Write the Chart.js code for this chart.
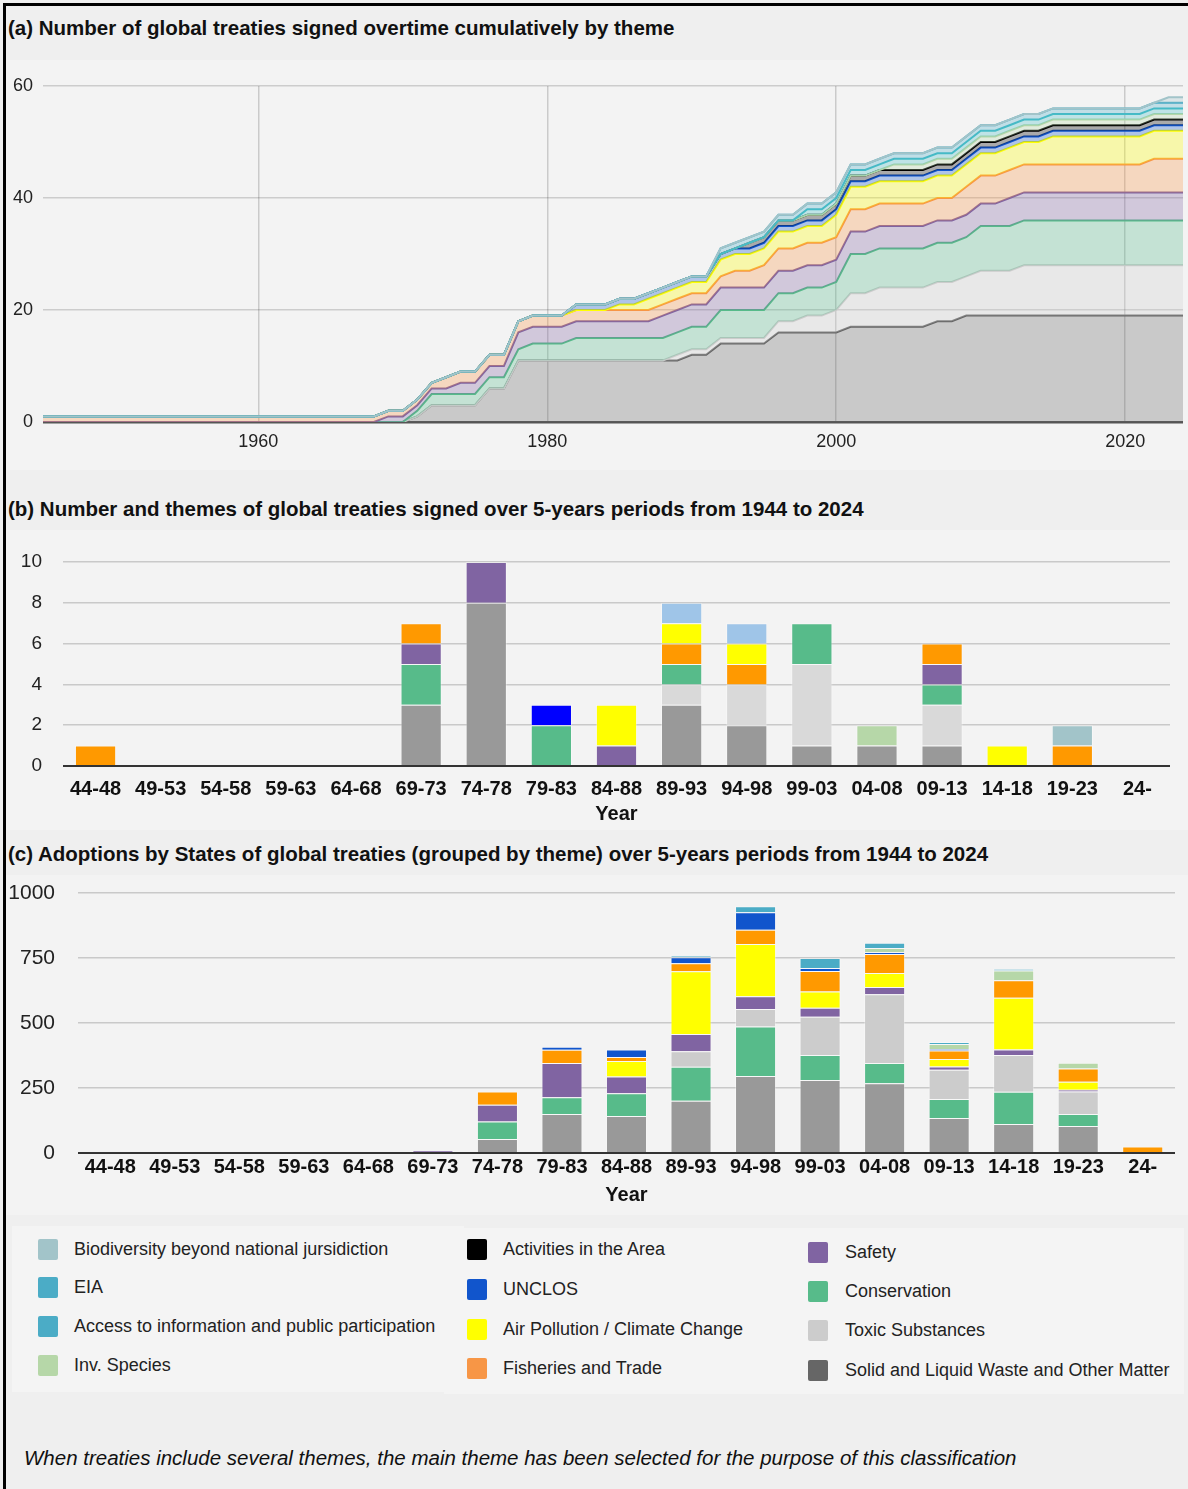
<!DOCTYPE html>
<html>
<head>
<meta charset="utf-8">
<script src="https://cdn.jsdelivr.net/npm/chart.js"></script>
<style>
  body { margin: 0; background: #fff; font-family: "Liberation Sans", Arial, sans-serif; }
  #page { position: relative; width: 1188px; height: 1489px; background: #efefef; overflow: hidden; }
  .frame { position: absolute; background: #000; }
  .ttl { position: absolute; left: 8px; font-size: 20.5px; font-weight: bold; color: #111; line-height: 24px; white-space: nowrap; }
  canvas { position: absolute; left: 6px; background: #f3f3f3; }
  .panel { position: absolute; background: #f4f4f4; }
  .sw { position: absolute; width: 20px; height: 21px; border-radius: 2px; }
  .lt { position: absolute; font-size: 18px; color: #222; line-height: 21px; white-space: nowrap; }
  .note { position: absolute; left: 24px; top: 1446px; font-size: 20.5px; font-style: italic; color: #111; white-space: nowrap; }
</style>
</head>
<body>
<div id="page">
  <div class="frame" style="left:3px;top:3px;width:3px;height:1486px"></div>
  <div class="frame" style="left:3px;top:3px;width:1185px;height:3px"></div>

  <div class="ttl" style="top:16px">(a) Number of global treaties signed overtime cumulatively by theme</div>
  <canvas id="chartA" width="1182" height="410" style="top:60px"></canvas>

  <div class="ttl" style="top:497px">(b) Number and themes of global treaties signed over 5-years periods from 1944 to 2024</div>
  <canvas id="chartB" width="1182" height="300" style="top:530px"></canvas>

  <div class="ttl" style="top:842px">(c) Adoptions by States of global treaties (grouped by theme) over 5-years periods from 1944 to 2024</div>
  <canvas id="chartC" width="1182" height="340" style="top:875px"></canvas>

  <div class="panel" style="left:12px;top:1226px;width:452px;height:166px"></div>
  <div class="panel" style="left:444px;top:1228px;width:740px;height:166px"></div>
  <div id="legend"></div>

  <div class="note">When treaties include several themes, the main theme has been selected for the purpose of this classification</div>
</div>

<script>
// ---- (a) years each treaty was signed, by theme ----
const firstYear = 1945
const lastYear = 2024
const yearTicks = [1960, 1980, 2000, 2020]

const signedSolid = [1971,1972,1972,1976,1976,1976,1978,1978,1978,1978,1978,1990,1992,1992,1996,1996,2001,2007,2009]
const signedToxic = [1989,1996,1998,2000,2001,2001,2003,2010,2013]
const signedConservation = [1971,1972,1979,1982,1992,2001,2001,2010]
const signedSafety = [1969,1974,1978,1988,2012]
const signedFisheries = [1945,1973,1993,1995,2009,2022]
const signedAir = [1985,1987,1992,2000,2015]
const signedUnclos = [1982]
const signedActivities = [1994]
const signedInvSpecies = [2004]
const signedAccess = [1998]
const signedEia = [1992]
const signedBbnj = [2023]

// ---- (b) number of treaties per 5-year period ----
const periods = ['44-48','49-53','54-58','59-63','64-68','69-73','74-78','79-83','84-88','89-93','94-98','99-03','04-08','09-13','14-18','19-23','24-']
const countSolid        = [0,0,0,0,0,3,8,0,0,3,2,1,1,1,0,0,0]
const countToxic        = [0,0,0,0,0,0,0,0,0,1,2,4,0,2,0,0,0]
const countConservation = [0,0,0,0,0,2,0,2,0,1,0,2,0,1,0,0,0]
const countSafety       = [0,0,0,0,0,1,2,0,1,0,0,0,0,1,0,0,0]
const countFisheries    = [1,0,0,0,0,1,0,0,0,1,1,0,0,1,0,1,0]
const countAir          = [0,0,0,0,0,0,0,0,2,1,1,0,0,0,1,0,0]
const countUnclos       = [0,0,0,0,0,0,0,1,0,0,0,0,0,0,0,0,0]
const countEiaAccess    = [0,0,0,0,0,0,0,0,0,1,1,0,0,0,0,0,0]
const countInvSpecies   = [0,0,0,0,0,0,0,0,0,0,0,0,1,0,0,0,0]
const countBbnj         = [0,0,0,0,0,0,0,0,0,0,0,0,0,0,0,1,0]

// ---- (c) adoptions by States per 5-year period ----
const adoptSolid        = [0,0,0,0,0,0,54,150,142,201,296,281,268,135,112,104,0]
const adoptConservation = [0,0,0,0,0,0,67,64,88,131,191,96,78,73,124,46,0]
const adoptToxic        = [0,0,0,0,0,0,0,0,0,59,67,147,265,112,141,87,0]
const adoptSafety       = [0,0,0,0,0,10,65,132,64,67,49,35,27,13,21,6,0]
const adoptAir          = [0,0,0,0,0,0,0,0,60,241,201,62,54,29,199,31,0]
const adoptFisheries    = [3,0,0,0,0,0,51,51,15,31,55,79,73,32,67,51,25]
const adoptUnclos       = [0,0,0,0,0,0,0,12,29,23,67,12,8,6,0,0,0]
const adoptInvSpecies   = [0,0,0,0,0,0,0,0,0,0,0,0,15,19,38,22,0]
const adoptEiaAccess    = [0,0,0,0,0,0,0,0,0,6,23,38,21,8,6,0,0]

Chart.defaults.font.family = '"Liberation Sans", Arial, sans-serif'
Chart.defaults.color = '#222'

// ---------- chart (a) ----------
let layersA = [  // bottom to top
  {name:'Solid and Liquid Waste and Other Matter', signed:signedSolid, line:'#666666', fill:'rgba(102,102,102,0.3)'},
  {name:'Toxic Substances', signed:signedToxic, line:'#cccccc', fill:'rgba(204,204,204,0.3)'},
  {name:'Conservation', signed:signedConservation, line:'#57bb8a', fill:'rgba(87,187,138,0.3)'},
  {name:'Safety', signed:signedSafety, line:'#8064a2', fill:'rgba(128,100,162,0.3)'},
  {name:'Fisheries and Trade', signed:signedFisheries, line:'#f79646', fill:'rgba(247,150,70,0.3)'},
  {name:'Air Pollution / Climate Change', signed:signedAir, line:'#ffff00', fill:'rgba(255,255,0,0.3)'},
  {name:'UNCLOS', signed:signedUnclos, line:'#1155cc', fill:'rgba(17,85,204,0.3)'},
  {name:'Activities in the Area', signed:signedActivities, line:'#000000', fill:'rgba(0,0,0,0.3)'},
  {name:'Inv. Species', signed:signedInvSpecies, line:'#b6d7a8', fill:'rgba(182,215,168,0.3)'},
  {name:'Access to information and public participation', signed:signedAccess, line:'#46bdc6', fill:'rgba(70,189,198,0.3)'},
  {name:'EIA', signed:signedEia, line:'#4bacc6', fill:'rgba(75,172,198,0.3)'},
  {name:'Biodiversity beyond national jursidiction', signed:signedBbnj, line:'#a2c4c9', fill:'rgba(162,196,201,0.3)'}
]

let years = []
for (let y = firstYear; y <= lastYear; y++) years.push(y)

// cumulative count per theme, stacked on the layers below
let base = years.map(() => 0)
let dsA = layersA.map(layer => {
  let top = years.map((yr, i) => base[i] + layer.signed.filter(s => s <= yr).length)
  base = top
  return {
    label: layer.name,
    data: years.map((yr, i) => ({x: yr, y: top[i]})),
    borderColor: layer.line,
    backgroundColor: layer.fill,
    borderWidth: 2,
    pointRadius: 0,
    tension: 0
  }
}).reverse()
dsA.forEach((d, i) => { d.fill = i === dsA.length - 1 ? 'origin' : '+1' })

new Chart(document.querySelector('#chartA'), {
  type: 'line',
  data: { datasets: dsA },
  options: {
    responsive: false,
    animation: false,
    layout: { padding: {top: 26, right: 5, bottom: 0, left: 0} },
    plugins: { legend: {display: false}, tooltip: {enabled: false} },
    scales: {
      x: {
        type: 'linear', min: 1945.1, max: lastYear, z: 1,
        afterBuildTicks: s => { s.ticks = yearTicks.map(v => ({value: v})) },
        afterFit: s => { s.height = 48 },
        border: {display: false},
        grid: {color: 'rgba(0,0,0,0.17)', lineWidth: 1.5, drawTicks: false},
        ticks: {padding: 9, font: {size: 18}, color: '#222', maxRotation: 0, callback: v => String(v)}
      },
      y: {
        min: 0, max: 60, z: 1,
        afterFit: s => { s.width = 37; s.paddingTop = 0; s.paddingBottom = 0 },
        border: {display: false},
        grid: {
          drawTicks: false,
          color: c => c.tick.value === 0 ? '#555555' : 'rgba(0,0,0,0.16)',
          lineWidth: c => c.tick.value === 0 ? 2.5 : 1.5
        },
        ticks: {stepSize: 20, padding: 10, font: {size: 18}, color: '#222'}
      }
    }
  }
})

// ---------- chart (b) ----------
let barsB = [
  {label:'Solid and Liquid Waste and Other Matter', data:countSolid, color:'#999999'},
  {label:'Toxic Substances', data:countToxic, color:'#d9d9d9'},
  {label:'Conservation', data:countConservation, color:'#57bb8a'},
  {label:'Safety', data:countSafety, color:'#8064a2'},
  {label:'Fisheries and Trade', data:countFisheries, color:'#ff9900'},
  {label:'Air Pollution / Climate Change', data:countAir, color:'#ffff00'},
  {label:'UNCLOS', data:countUnclos, color:'#0000ff'},
  {label:'EIA / Access to information', data:countEiaAccess, color:'#9fc5e8'},
  {label:'Inv. Species', data:countInvSpecies, color:'#b6d7a8'},
  {label:'Biodiversity beyond national jursidiction', data:countBbnj, color:'#a2c4c9'}
]

// ---------- chart (c) ----------
let barsC = [
  {label:'Solid and Liquid Waste and Other Matter', data:adoptSolid, color:'#999999'},
  {label:'Conservation', data:adoptConservation, color:'#57bb8a'},
  {label:'Toxic Substances', data:adoptToxic, color:'#cccccc'},
  {label:'Safety', data:adoptSafety, color:'#8064a2'},
  {label:'Air Pollution / Climate Change', data:adoptAir, color:'#ffff00'},
  {label:'Fisheries and Trade', data:adoptFisheries, color:'#ff9900'},
  {label:'UNCLOS', data:adoptUnclos, color:'#1155cc'},
  {label:'Inv. Species', data:adoptInvSpecies, color:'#b6d7a8'},
  {label:'EIA / Access to information', data:adoptEiaAccess, color:'#4bacc6'}
]

function barChart(id, bars, opt) {
  return new Chart(document.querySelector(id), {
    type: 'bar',
    data: {
      labels: periods,
      datasets: bars.map(b => ({
        label: b.label,
        data: b.data,
        backgroundColor: b.color,
        borderColor: 'rgba(255,255,255,0.35)',
        borderWidth: c => c.raw ? 1 : 0,
        barPercentage: opt.barPct,
        categoryPercentage: 1
      }))
    },
    options: {
      responsive: false,
      animation: false,
      layout: { padding: {top: opt.padTop, right: opt.padRight, bottom: 0, left: 0} },
      plugins: { legend: {display: false}, tooltip: {enabled: false} },
      scales: {
        x: {
          stacked: true,
          afterFit: s => { s.height = opt.xHeight },
          border: {display: false},
          grid: {display: false},
          ticks: {padding: opt.xPad, autoSkip: false, maxRotation: 0, font: {size: 20, weight: 'bold'}, color: '#111'},
          title: {display: true, text: 'Year', color: '#111', font: {size: 20, weight: 'bold'}, padding: {top: 0, bottom: opt.titlePad}}
        },
        y: {
          stacked: true, min: 0, max: opt.max,
          afterFit: s => { s.width = opt.yWidth; s.paddingTop = 0; s.paddingBottom = 0 },
          border: {display: false},
          grid: {
            drawTicks: false,
            color: c => c.tick.value === 0 ? '#333333' : '#c9c9c9',
            lineWidth: c => c.tick.value === 0 ? 2 : 1.5
          },
          ticks: {stepSize: opt.step, padding: opt.yPad, font: {size: opt.yFont}, color: '#222', callback: v => String(v)}
        }
      }
    }
  })
}

barChart('#chartB', barsB, {barPct: 0.633, padTop: 32, padRight: 18, xHeight: 64, xPad: 3, titlePad: 4, max: 10, step: 2, yWidth: 57, yPad: 21, yFont: 19})
barChart('#chartC', barsC, {barPct: 0.636, padTop: 18, padRight: 13, xHeight: 62, xPad: -6, titlePad: 8, max: 1000, step: 250, yWidth: 72, yPad: 23, yFont: 21})

// ---------- shared legend ----------
let legendItems = [
  ['Biodiversity beyond national jursidiction', '#a2c4c9', 38, 74, 1249],
  ['EIA', '#4bacc6', 38, 74, 1287],
  ['Access to information and public participation', '#4bacc6', 38, 74, 1326],
  ['Inv. Species', '#b6d7a8', 38, 74, 1365],
  ['Activities in the Area', '#000000', 467, 503, 1249],
  ['UNCLOS', '#1155cc', 467, 503, 1289],
  ['Air Pollution / Climate Change', '#ffff00', 467, 503, 1329],
  ['Fisheries and Trade', '#f79646', 467, 503, 1368],
  ['Safety', '#8064a2', 808, 845, 1252],
  ['Conservation', '#57bb8a', 808, 845, 1291],
  ['Toxic Substances', '#cccccc', 808, 845, 1330],
  ['Solid and Liquid Waste and Other Matter', '#666666', 808, 845, 1370]
]
let legend = document.querySelector('#legend')
legendItems.forEach(([text, color, sx, tx, cy]) => {
  let sw = document.createElement('div')
  sw.className = 'sw'
  sw.style.left = sx + 'px'
  sw.style.top = (cy - 10) + 'px'
  sw.style.background = color
  legend.appendChild(sw)
  let lt = document.createElement('div')
  lt.className = 'lt'
  lt.style.left = tx + 'px'
  lt.style.top = (cy - 10) + 'px'
  lt.textContent = text
  legend.appendChild(lt)
})
</script>
</body>
</html>
